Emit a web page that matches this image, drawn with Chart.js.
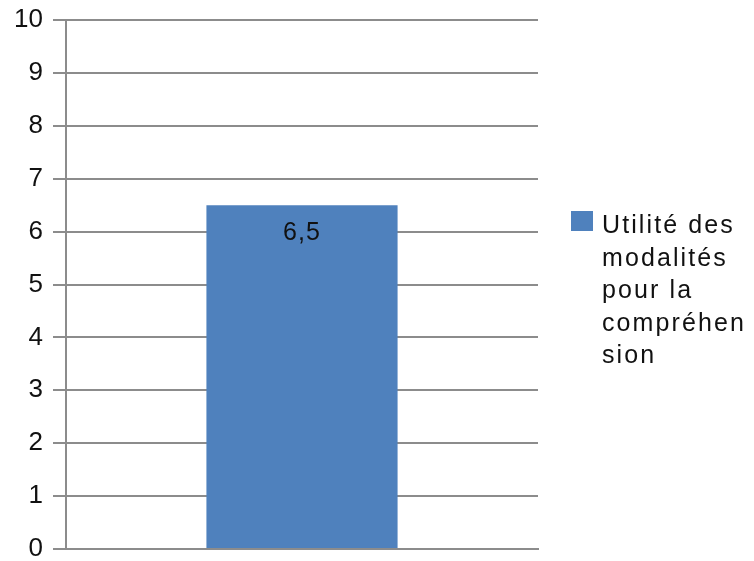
<!DOCTYPE html>
<html>
<head>
<meta charset="utf-8">
<script src="https://cdn.jsdelivr.net/npm/chart.js@4.4.1/dist/chart.umd.min.js"></script>
<style>
  html, body { margin: 0; padding: 0; background: #fff; }
  #wrap { width: 754px; height: 561px; }
</style>
</head>
<body>
<div id="wrap"><canvas id="chart"></canvas></div>
<script>
const categories = [""];
const seriesLabel = "Utilité des modalités pour la compréhension";
const legendLines = ["Utilité des", "modalités", "pour la", "compréhen", "sion"];
const values = [6.5];
const valueLabels = ["6,5"];

const BAR_COLOR = "#4F81BD";
const GRID_COLOR = "#8c8c8c";
const FONT = "'Liberation Sans', Arial, sans-serif";

// value label inside the top of the bar
const valueLabelPlugin = {
  id: "valueLabel",
  afterDatasetsDraw(chart) {
    const ctx = chart.ctx;
    const meta = chart.getDatasetMeta(0);
    ctx.save();
    ctx.font = `25px ${FONT}`;
    ctx.letterSpacing = "1px";
    ctx.fillStyle = "#111";
    ctx.textAlign = "center";
    ctx.textBaseline = "alphabetic";
    meta.data.forEach((bar, i) => {
      ctx.fillText(valueLabels[i], bar.x, bar.y + 35);
    });
    ctx.restore();
  },
};

// legend on the right, wrapped the way the original wraps it
const sideLegendPlugin = {
  id: "sideLegend",
  afterDraw(chart) {
    const ctx = chart.ctx;
    const color = chart.data.datasets[0].backgroundColor;
    ctx.save();
    ctx.fillStyle = color;
    ctx.fillRect(571, 211, 22, 20);
    ctx.font = `25px ${FONT}`;
    ctx.letterSpacing = "2.1px";
    ctx.fillStyle = "#111";
    ctx.textAlign = "left";
    ctx.textBaseline = "alphabetic";
    legendLines.forEach((line, i) => {
      ctx.fillText(line, 602, 233 + i * 32.5);
    });
    ctx.restore();
  },
};

new Chart(document.getElementById("chart"), {
  type: "bar",
  data: {
    labels: categories,
    datasets: [{
      label: seriesLabel,
      data: values,
      backgroundColor: BAR_COLOR,
      barPercentage: 0.405,
      categoryPercentage: 1,
    }],
  },
  options: {
    responsive: true,
    maintainAspectRatio: false,
    animation: false,
    devicePixelRatio: 1,
    layout: { padding: { top: 20, right: 216, bottom: 12, left: 0 } },
    plugins: {
      legend: { display: false },
      tooltip: { enabled: false },
    },
    scales: {
      x: {
        grid: { display: false },
        border: { display: true, color: GRID_COLOR, width: 2 },
        ticks: { display: false },
        afterFit: (scale) => { scale.height = 0; },
      },
      y: {
        min: 0,
        max: 10,
        ticks: {
          stepSize: 1,
          padding: 10,
          color: "#111",
          font: { family: FONT, size: 26 },
        },
        grid: { color: GRID_COLOR, lineWidth: 2, tickLength: 13 },
        border: { display: true, color: GRID_COLOR, width: 2 },
        afterFit: (scale) => {
          scale.width = 66;
          scale.paddingTop = 0;
          scale.paddingBottom = 0;
        },
      },
    },
  },
  plugins: [valueLabelPlugin, sideLegendPlugin],
});
</script>
</body>
</html>
